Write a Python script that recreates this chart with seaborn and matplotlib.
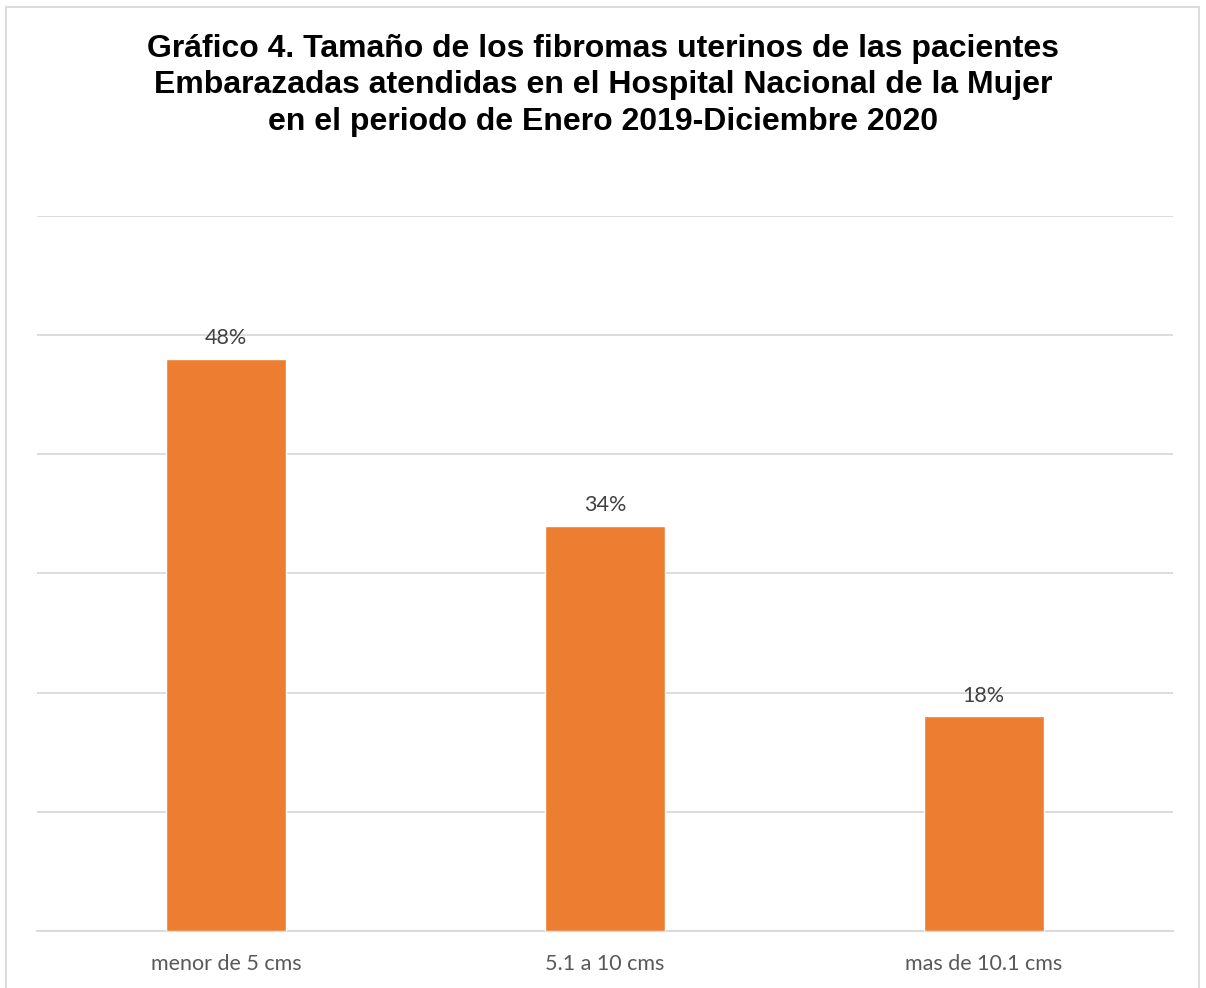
import matplotlib.pyplot as plt
import seaborn as sns
import pandas as pd
from matplotlib.patches import Rectangle

# datos del gráfico
categorias = ["menor de 5 cms", "5.1 a 10 cms", "mas de 10.1 cms"]
porcentajes = [48, 34, 18]
titulo = ("Gráfico 4. Tamaño de los fibromas uterinos de las pacientes\n"
          "Embarazadas atendidas en el Hospital Nacional de la Mujer\n"
          "en el periodo de Enero 2019-Diciembre 2020")

sns.set_style("white")
plt.rcParams["font.family"] = ["Lato", "DejaVu Sans"]

df = pd.DataFrame({"Tamaño": categorias, "Porcentaje": porcentajes})

fig = plt.figure(figsize=(12.06, 9.88), dpi=100)
ax = fig.add_axes([0.0307, 0.0577, 0.9419, 0.7237])

sns.barplot(data=df, x="Tamaño", y="Porcentaje", color="#ED7D31",
            width=0.317, saturation=1, ax=ax, zorder=3)

ax.set_ylim(0, 60)
ax.set_yticks(range(0, 61, 10))
ax.yaxis.grid(True, color="#D9D9D9", linewidth=1.3, zorder=0)
ax.set_axisbelow(True)
ax.tick_params(axis="y", left=False, labelleft=False)
ax.tick_params(axis="x", bottom=False, colors="#595959", labelsize=15.5, pad=13)
for s in ["top", "left", "right"]:
    ax.spines[s].set_visible(False)
ax.spines["bottom"].set_color("#D9D9D9")
ax.spines["bottom"].set_linewidth(1.3)
ax.set_xlabel("")
ax.set_ylabel("")

# etiquetas de datos
for i, v in enumerate(porcentajes):
    ax.text(i, v + 0.9, f"{v}%", ha="center", va="bottom",
            fontsize=15.5, color="#404040")

fig.text(0.5, 0.966, titulo, ha="center", va="top", fontsize=23,
         fontweight="bold", color="black",
         family=["Liberation Sans", "DejaVu Sans"], linespacing=1.3)

# borde del área del gráfico
fig.patches.append(Rectangle((0.005, -0.01), 0.989, 1.003, transform=fig.transFigure,
                             fill=False, edgecolor="#D9D9D9", linewidth=1.3))

fig.savefig("out.png", dpi=100)
